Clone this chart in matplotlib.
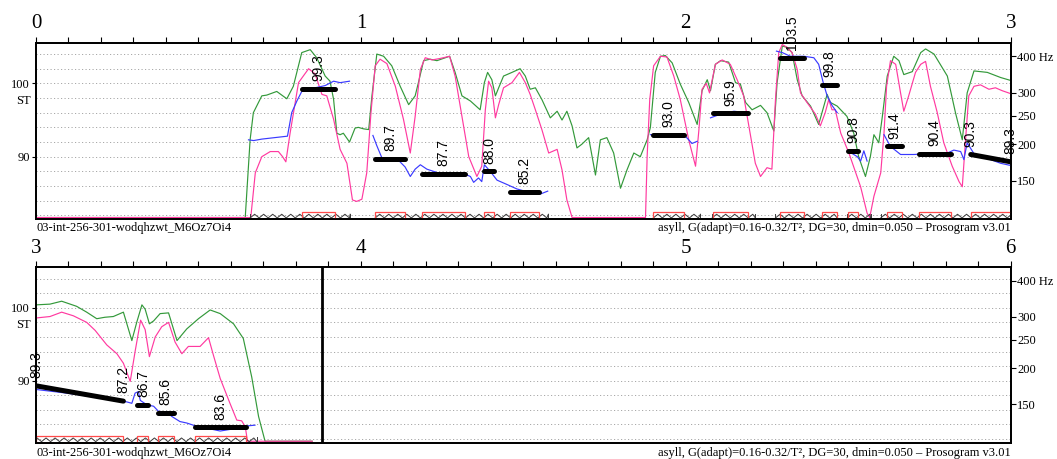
import numpy as np
import matplotlib
matplotlib.use("Agg")
import matplotlib.pyplot as plt
import matplotlib.transforms as mtransforms
from matplotlib.patches import Rectangle
from matplotlib.ticker import MultipleLocator
from matplotlib import font_manager

# ---------------- data (time in s, pitch in semitones re 1 Hz) ----------------
green_t = [0.0, 0.644, 0.659, 0.669, 0.695, 0.71, 0.741, 0.772, 0.792, 0.818, 0.844, 0.864, 0.89, 0.905,
           0.916, 0.926, 0.936, 0.946, 0.965, 0.982, 0.992, 1.008, 1.024, 1.034, 1.049, 1.07, 1.095, 1.121,
           1.147, 1.167, 1.177, 1.193, 1.213, 1.234, 1.254, 1.273, 1.29, 1.311, 1.337, 1.367, 1.38, 1.39,
           1.403, 1.414, 1.424, 1.439, 1.465, 1.49, 1.506, 1.521, 1.537, 1.557, 1.583, 1.604, 1.619, 1.634,
           1.65, 1.665, 1.68, 1.701, 1.722, 1.737, 1.757, 1.778, 1.799, 1.819, 1.84, 1.86, 1.881, 1.891,
           1.906, 1.922, 1.937, 1.958, 1.983, 2.009, 2.035, 2.05, 2.066, 2.076, 2.091, 2.107, 2.132, 2.153,
           2.168, 2.184, 2.204, 2.23, 2.25, 2.271, 2.281, 2.297, 2.312, 2.327, 2.343, 2.358, 2.384, 2.409,
           2.425, 2.435, 2.445, 2.466, 2.496, 2.517, 2.532, 2.553, 2.568, 2.579, 2.594, 2.605, 2.62, 2.64,
           2.656, 2.671, 2.697, 2.723, 2.738, 2.764, 2.805, 2.83, 2.851, 2.866, 2.887, 2.928, 2.969, 3.0,
           3.043, 3.079, 3.125, 3.156, 3.187, 3.212, 3.238, 3.269, 3.295, 3.31, 3.326, 3.336, 3.349, 3.362,
           3.382, 3.408, 3.434, 3.464, 3.5, 3.536, 3.567, 3.608, 3.638, 3.664, 3.685, 3.705, 3.85]
green_st = [81.7, 81.7, 92.3, 96.0, 98.3, 98.4, 98.9, 97.9, 99.6, 104.2, 104.6, 103.5, 101.0, 100.3,
            97.8, 93.2, 93.0, 93.2, 92.0, 93.9, 94.0, 93.8, 93.7, 98.3, 104.0, 103.7, 102.4, 99.6,
            97.1, 98.3, 100.1, 103.1, 103.3, 103.1, 103.4, 103.7, 101.5, 98.3, 97.6, 96.4, 100.1, 101.5,
            100.5, 98.3, 99.4, 101.0, 101.5, 102.0, 101.0, 99.2, 99.4, 97.8, 95.3, 96.2, 95.0, 96.2,
            94.2, 91.2, 91.7, 92.6, 87.5, 92.3, 92.6, 90.5, 85.7, 88.2, 90.5, 90.0, 92.3, 94.0,
            101.5, 103.7, 103.8, 102.8, 99.9, 97.4, 94.4, 99.0, 100.5, 99.0, 102.6, 103.1, 102.9, 100.1,
            99.9, 97.4, 96.4, 97.0, 96.0, 93.5, 100.1, 105.1, 104.9, 104.2, 100.5, 98.3, 96.9, 94.4,
            96.9, 98.5, 97.4, 96.9, 95.5, 93.2, 90.0, 87.3, 90.0, 93.0, 91.9, 95.5, 101.0, 103.7,
            103.1, 101.2, 101.6, 104.2, 104.7, 104.0, 101.0, 96.0, 92.3, 98.7, 101.7, 101.5, 100.8, 100.4,
            100.5, 100.9, 100.2, 99.4, 98.5, 98.7, 98.8, 99.4, 95.5, 98.0, 100.4, 99.8, 97.8, 98.2,
            99.2, 99.3, 95.5, 97.1, 98.5, 99.7, 99.2, 97.8, 95.8, 90.5, 85.1, 81.7, 81.7]

pink_t = [0.0, 0.661, 0.675, 0.695, 0.721, 0.746, 0.759, 0.769, 0.782, 0.808, 0.839, 0.859, 0.88, 0.895,
          0.916, 0.936, 0.957, 0.974, 0.987, 1.003, 1.018, 1.031, 1.044, 1.059, 1.08, 1.106, 1.131, 1.152,
          1.167, 1.183, 1.198, 1.219, 1.244, 1.273, 1.29, 1.311, 1.332, 1.357, 1.372, 1.383, 1.393, 1.403,
          1.414, 1.424, 1.439, 1.465, 1.488, 1.506, 1.521, 1.537, 1.557, 1.578, 1.604, 1.619, 1.634, 1.65,
          1.876, 1.881, 1.889, 1.901, 1.922, 1.942, 1.963, 1.983, 2.009, 2.03, 2.04, 2.05, 2.063, 2.073,
          2.091, 2.112, 2.137, 2.158, 2.178, 2.194, 2.214, 2.23, 2.25, 2.265, 2.276, 2.286, 2.297, 2.312,
          2.327, 2.343, 2.353, 2.373, 2.399, 2.414, 2.429, 2.44, 2.45, 2.46, 2.477, 2.502, 2.538, 2.558,
          2.566, 2.579, 2.6, 2.61, 2.618, 2.63, 2.646, 2.661, 2.671, 2.686, 2.707, 2.723, 2.738, 2.753,
          2.774, 2.794, 2.82, 2.841, 2.851, 2.861, 2.871, 2.887, 2.907, 2.933, 2.953, 2.974, 3.0,
          3.043, 3.079, 3.115, 3.156, 3.182, 3.218, 3.249, 3.269, 3.29, 3.305, 3.322, 3.336, 3.349, 3.367,
          3.387, 3.408, 3.428, 3.449, 3.469, 3.505, 3.531, 3.546, 3.567, 3.597, 3.618, 3.633, 3.644, 3.651,
          3.85]
pink_st = [81.7, 81.7, 87.8, 90.0, 90.7, 90.7, 90.0, 89.3, 93.2, 100.1, 102.0, 101.3, 98.5, 98.3,
           95.1, 91.0, 89.1, 84.1, 83.9, 84.2, 87.8, 96.0, 102.4, 103.3, 102.7, 99.6, 95.1, 90.5,
           95.5, 101.9, 103.5, 103.2, 103.4, 103.7, 101.0, 95.5, 90.0, 87.3, 88.7, 96.4, 100.3, 99.4,
           95.3, 97.1, 99.4, 100.1, 101.5, 100.1, 98.5, 96.4, 93.7, 90.5, 91.0, 88.2, 84.1, 81.7,
           81.7, 90.0, 97.8, 102.4, 103.7, 103.6, 101.0, 97.8, 92.3, 88.7, 93.5, 99.2, 100.0, 98.7,
           102.6, 103.2, 102.6, 100.5, 98.3, 94.2, 89.1, 87.3, 88.5, 88.3, 97.8, 104.2, 105.3, 104.9,
           104.2, 101.9, 98.7, 97.4, 95.8, 94.2, 96.0, 97.8, 96.4, 96.4, 93.2, 90.5, 85.9, 82.3,
           81.7, 84.6, 87.8, 93.2, 99.6, 103.1, 102.6, 98.7, 96.2, 98.3, 101.5, 102.6, 103.0, 99.6,
           96.0, 91.9, 88.7, 86.6, 85.9, 92.3, 98.3, 99.6, 99.8, 99.2, 99.4, 99.0, 98.6,
           98.8, 99.4, 98.9, 98.0, 96.9, 94.9, 93.7, 92.4, 89.9, 94.0, 98.3, 97.0, 93.3, 96.0,
           97.4, 98.0, 95.3, 93.7, 94.7, 94.7, 95.9, 93.5, 90.3, 86.9, 84.6, 84.5, 83.7, 81.7,
           81.7]

nan = float("nan")
blue_t = [0.654, 0.67, 0.695, 0.774, 0.787, 0.803, 0.818, 0.849, 0.89, 0.916, 0.936, 0.965, nan,
          1.037, 1.049, 1.065, 1.116, 1.136, 1.152, 1.167, 1.183, 1.203, 1.244, 1.316, 1.337, 1.347,
          1.362, 1.372, 1.38, 1.398, 1.419, 1.45, 1.48, 1.521, 1.552, 1.575, nan,
          1.891, 1.994, 2.009, 2.019, 2.035, nan,
          2.076, 2.107, 2.148, 2.189, nan,
          2.279, 2.297, 2.322, 2.363, 2.394, 2.409, 2.414, 2.423, 2.435, 2.45, 2.466, nan,
          2.502, 2.528, 2.538, 2.548, 2.558, nan,
          2.61, 2.63, 2.661, 2.702, 2.743, 2.805, 2.825, 2.846, 2.856, 2.866, 2.887, 2.926, 2.969, 3.0,
          3.094, 3.176, 3.238, 3.279, 3.295, 3.305, 3.315, 3.321, 3.341, 3.362, 3.377, 3.403, 3.418,
          3.443, 3.464, 3.505, 3.546, 3.567, 3.608, 3.649, 3.674]
blue_st = [92.3, 92.2, 92.4, 92.8, 96.0, 97.6, 98.9, 99.3, 99.7, 100.3, 100.1, 100.3, nan,
           92.9, 91.5, 89.8, 89.5, 88.6, 87.3, 88.3, 88.9, 88.3, 87.7, 87.7, 87.3, 86.5,
           87.1, 86.6, 88.9, 88.0, 86.8, 86.2, 85.6, 85.1, 84.9, 85.3, nan,
           93.0, 93.0, 92.3, 91.8, 92.1, nan,
           95.3, 95.8, 96.2, 96.0, nan,
           104.4, 104.2, 103.7, 103.7, 103.5, 102.6, 101.7, 100.1, 98.3, 97.0, 96.0, nan,
           90.7, 90.0, 89.4, 90.8, 89.4, nan,
           93.0, 91.4, 90.3, 90.3, 90.4, 90.5, 90.9, 90.7, 89.6, 91.9, 90.4, 89.8, 89.1, 88.8,
           88.3, 87.8, 87.4, 87.1, 86.9, 88.3, 88.5, 87.3, 86.7, 86.5, 85.8, 85.7, 85.1,
           84.4, 84.2, 83.6, 83.3, 83.1, 83.4, 83.8, 83.9]

# stylised pitch segments (nuclei)
seg_t0 = [0.818, 1.044, 1.188, 1.378, 1.460, 1.899, 2.084, 2.289, 2.420, 2.500, 2.620, 2.717, 2.877,
          3.000, 3.312, 3.374, 3.490]
seg_t1 = [0.921, 1.136, 1.321, 1.410, 1.547, 1.994, 2.191, 2.365, 2.466, 2.530, 2.666, 2.815, 3.000,
          3.269, 3.346, 3.425, 3.647]
seg_v0 = [99.3, 89.7, 87.7, 88.0, 85.2, 93.0, 95.9, 103.5, 99.8, 90.8, 91.4, 90.4, 90.3,
          89.3, 86.7, 85.6, 83.6]
seg_v1 = [99.3, 89.7, 87.7, 88.0, 85.2, 93.0, 95.9, 103.5, 99.8, 90.8, 91.4, 90.4, 89.3,
          87.2, 86.7, 85.6, 83.6]

# voiced regions (zig-zag band)
voiced_t0 = [0.659, 1.044, 1.900, 2.081, 2.276, 2.497, 2.600]
voiced_t1 = [0.967, 1.577, 2.045, 2.214, 2.466, 2.569, 3.680]

signal_end = 3.88
grid_st = [82, 84, 86, 88, 90, 92, 94, 96, 98, 100, 102, 104]
st_ticks = [90, 100]
hz_ticks = [150, 200, 250, 300, 400]
hz_labels = ["150", "200", "250", "300", "400 Hz"]
panels = [(0, 3), (3, 6)]
file_label = "03-int-256-301-wodqhzwt_M6Oz7Oi4"
info_label = "asyll, G(adapt)=0.16-0.32/T\u00b2, DG=30, dmin=0.050 \u2013 Prosogram v3.01"

# ---------------- drawing ----------------
plt.rcParams["font.family"] = ["Liberation Serif", "DejaVu Serif"]
names = {f.name for f in font_manager.fontManager.ttflist}
lab_font = "Liberation Sans Narrow" if "Liberation Sans Narrow" in names else "Liberation Sans"

W, H = 1057, 459
fig = plt.figure(figsize=(W / 100, H / 100), dpi=100)
ST_MIN, ST_MAX = 81.5, 105.55
ax_rects = [[36 / W, 1 - 219 / H, 974.7 / W, 176.3 / H],
            [36 / W, 1 - 442.7 / H, 974.7 / W, 175.4 / H]]
footer_y = [1 - 228 / H, 1 - 453 / H]

GREEN, PINK, BLUE, RED = "#33993a", "#ff3aa0", "#3a3aff", "#ff4a4a"

for p, ((x0, x1), rect) in enumerate(zip(panels, ax_rects)):
    ax = fig.add_axes(rect)
    ax.set_xlim(x0, x1)
    ax.set_ylim(ST_MIN, ST_MAX)
    for g in grid_st:
        ax.axhline(g, color="#a8a8a8", lw=0.7, ls=(0, (1.2, 2.4)), zorder=0)

    ax.plot(green_t, green_st, color=GREEN, lw=0.85, zorder=2)
    ax.plot(pink_t, pink_st, color=PINK, lw=0.85, zorder=3)
    ax.plot(blue_t, blue_st, color=BLUE, lw=0.85, zorder=4)

    band = mtransforms.blended_transform_factory(ax.transData, ax.transAxes)
    # zig-zag voiced band
    half = 0.0139
    for a, b in zip(voiced_t0, voiced_t1):
        zx = np.append(np.arange(a, b, half), b)
        zy = np.where(np.arange(len(zx)) % 2 == 0, 0.006, 0.027)
        ax.plot(zx, zy, color="#3c3c3c", lw=0.7, transform=band, zorder=4)
        for e in (a, b):
            if not (abs(e - 3.0) < 1e-6):
                ax.plot([e, e], [0.004, 0.03], color="#3c3c3c", lw=0.7, transform=band, zorder=4)

    # stylisation
    for t0, t1, v0, v1 in zip(seg_t0, seg_t1, seg_v0, seg_v1):
        if not (x0 <= t0 < x1):
            continue
        ax.add_patch(Rectangle((t0, 0), t1 - t0, 0.037, transform=band, fill=False,
                               ec=RED, lw=0.9, zorder=5))
        ax.plot([t0, t1], [v0, v1], color="black", lw=3.6, solid_capstyle="round", zorder=6)
        if v0 == v1:
            labs = [((t0 + t1) / 2, v0)]
        else:
            labs = [(t0, v0), (t1, v1)]
        for lx, lv in labs:
            ax.annotate(f"{lv:.1f}", xy=(lx, lv), xytext=(0, 5.5), textcoords="offset points",
                        rotation=90, ha="center", va="bottom", fontsize=10, family=lab_font,
                        zorder=7, annotation_clip=False)

    ax.axvline(signal_end, color="black", lw=2.0, zorder=6)

    # axes styling
    for s in ax.spines.values():
        s.set_linewidth(1.3)
        s.set_color("black")
    ax.xaxis.set_ticks_position("top")
    ax.set_xticks(np.arange(x0, x1 + 0.5, 1))
    ax.set_xticklabels([str(v) for v in range(x0, x1 + 1)])
    ax.xaxis.set_minor_locator(MultipleLocator(0.1))
    ax.tick_params(axis="x", which="both", direction="out", length=4.3, width=0.8,
                   top=True, bottom=False, labeltop=True, labelbottom=False, pad=2.5,
                   labelsize=15)
    ax.set_yticks(st_ticks)
    ax.set_yticklabels([str(v) for v in st_ticks])
    ax.tick_params(axis="y", left=True, right=False, direction="out", length=3, width=0.8,
                   labelsize=9, pad=1.5)
    ax.annotate("ST", xy=(0, 97.6), xycoords=("axes fraction", "data"), xytext=(-9.4, 0),
                textcoords="offset points", ha="center", va="center", fontsize=9)

    tw = ax.twinx()
    tw.set_ylim(ST_MIN, ST_MAX)
    tw.set_yticks(12 * np.log2(np.array(hz_ticks, dtype=float)))
    tw.set_yticklabels(hz_labels)
    tw.tick_params(axis="y", right=True, direction="out", length=3.6, width=0.8, labelsize=9, pad=1)
    for s in tw.spines.values():
        s.set_linewidth(1.3)

    fig.text(36 / W, footer_y[p], file_label, ha="left", va="center", fontsize=9)
    fig.text(1010.7 / W, footer_y[p], info_label, ha="right", va="center", fontsize=9)

fig.savefig("out.png", dpi=100)
